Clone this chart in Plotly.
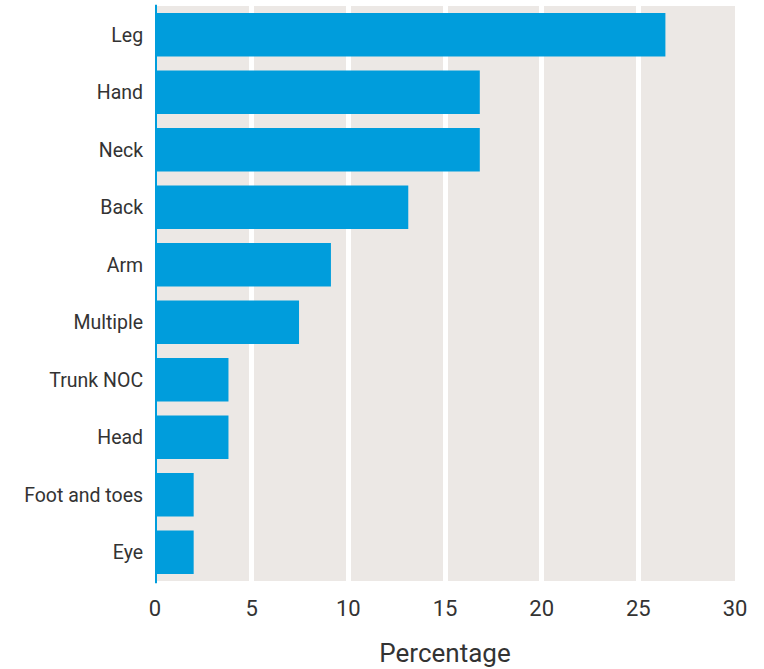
import plotly.graph_objects as go

categories = ["Leg", "Hand", "Neck", "Back", "Arm", "Multiple", "Trunk NOC", "Head", "Foot and toes", "Eye"]
values = [26.4, 16.8, 16.8, 13.1, 9.1, 7.45, 3.8, 3.8, 2.0, 2.0]
x_ticks = [0, 5, 10, 15, 20, 25, 30]

fig = go.Figure(go.Bar(
    x=values, y=categories, orientation="h",
    marker=dict(color="#009ddc", line=dict(width=0)),
    width=0.76,
))

fig.update_layout(
    width=764, height=669,
    margin=dict(l=155, r=29, t=6, b=88),
    plot_bgcolor="#ece8e5", paper_bgcolor="white",
    font=dict(family="Roboto", color="#333333"),
    showlegend=False,
    xaxis=dict(
        range=[0, 30], tickvals=x_ticks, ticktext=[str(t) for t in x_ticks],
        showgrid=True, gridcolor="white", gridwidth=5,
        zeroline=False, showline=False,
        ticks="outside", ticklen=8, tickcolor="rgba(0,0,0,0)",
        tickfont=dict(size=22, color="#333333"),
        title=dict(text="Percentage", font=dict(size=26, color="#333333"), standoff=23),
    ),
    yaxis=dict(
        categoryorder="array", categoryarray=categories[::-1],
        range=[-0.5, 9.5],
        showgrid=False, zeroline=False, showline=False,
        ticks="outside", ticklen=7, tickcolor="rgba(0,0,0,0)",
        tickfont=dict(size=19.5, color="#333333"),
    ),
    shapes=[dict(type="line", xref="x", yref="paper", x0=0, x1=0, y0=-0.004, y1=1.002,
                 line=dict(color="#009ddc", width=4))],
)

fig.write_html("out.html", config={"displayModeBar": False},
               post_script="document.body.style.margin='0px';")
